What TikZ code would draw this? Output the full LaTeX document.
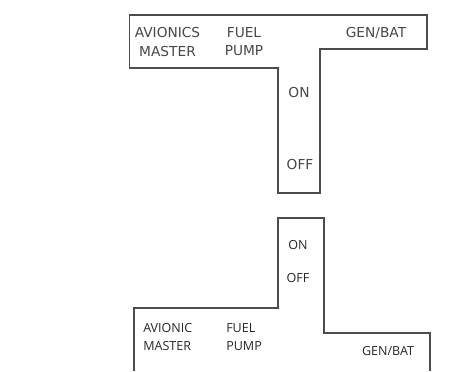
\documentclass[tikz,border=0pt]{standalone}
\usepackage{fontspec}
\setmainfont{Liberation Sans}
\newfontfamily\topfont{DejaVu Sans}
\newfontfamily\lowfont{Open Sans}
\usepackage{tikz}
\usetikzlibrary{calc}

\begin{document}
\begin{tikzpicture}[
        x=0.75pt, y=-0.75pt,
        outline/.style={draw=black!70, line width=1pt, line join=miter},
        toplabel/.style={font=\topfont\fontsize{10.3}{13.5}\selectfont, text=black!72, inner sep=0pt, align=center},
        lowlabel/.style={font=\lowfont\fontsize{9.4}{13.5}\selectfont, text=black!85, inner sep=0pt}
    ]
    \useasboundingbox (0,0) rectangle (470,371);

    % Top Panel
    \draw [outline] (129.5,15) -- (427,15) -- (427,49) -- (320,49) -- (320,193)
        -- (278,193) -- (278,68) -- (129.5,68) -- cycle;
    \node (avtop) [toplabel] at (167.5,42) {AVIONICS\\MASTER};
    \node (fuelTop) [toplabel] at (244,42) {FUEL\\PUMP};
    \node (genTop) [toplabel] at (376,33) {GEN/BAT};
    \node (onTop) [toplabel] at (299,92) {ON};
    \node (offTop) [toplabel] at (300,164) {OFF};

    % Bottom Panel
    \draw [outline] (134,371) -- (134,308) -- (278,308) -- (278,218) -- (324,218)
        -- (324,333) -- (430,333) -- (430,371);
    \node (avLow) [lowlabel, align=left, anchor=west] at (143,337) {AVIONIC\\MASTER};
    \node (fuelLow) [lowlabel, align=left, anchor=west] at (226,337) {FUEL\\PUMP};
    \node (genLow) [lowlabel] at (388,351) {GEN/BAT};
    \node (onLow) [lowlabel] at (298,245) {ON};
    \node (offLow) [lowlabel] at (298,278) {OFF};

\end{tikzpicture}
\end{document}
